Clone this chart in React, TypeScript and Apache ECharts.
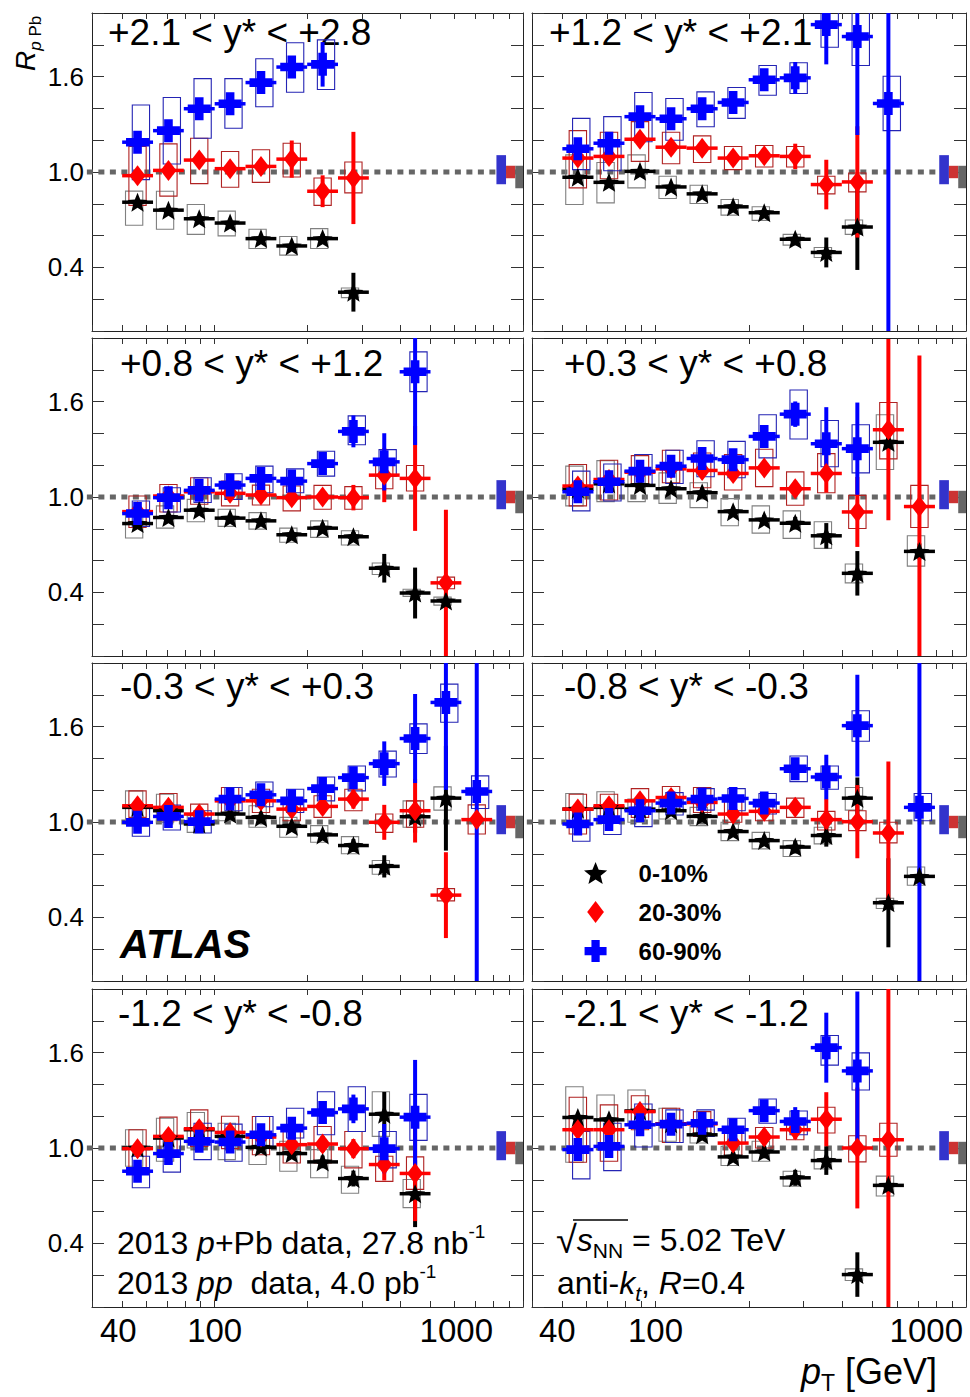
import React, { useEffect, useRef } from 'react';
import * as echarts from 'echarts';

const FONT = "'Liberation Sans', Arial, Helvetica, sans-serif";

// ---------------- data ----------------
// jet pT bins (GeV): centres and edges
const PT_CENTER = [56.2, 70.8, 89.1, 112.2, 141.3, 177.8, 223.9, 281.8, 354.8, 446.7, 562.3, 707.9];
const PT_LO = [50.1, 63.1, 79.4, 100, 125.9, 158.5, 199.5, 251.2, 316.2, 398.1, 501.2, 631.0];
const PT_HI = [63.1, 79.4, 100, 125.9, 158.5, 199.5, 251.2, 316.2, 398.1, 501.2, 631.0, 794.3];

const X_TICKS = [40, 50, 60, 70, 80, 90, 100, 200, 300, 400, 500, 600, 700, 800, 900, 1000];
const X_LABELS = [40, 100, 1000];
const Y_LABELS = [0.4, 1.0, 1.6];

const CENTRALITY = ['0-10%', '20-30%', '60-90%'];
const RAPIDITY = [
  '+2.1 < y* < +2.8', '+1.2 < y* < +2.1',
  '+0.8 < y* < +1.2', '+0.3 < y* < +0.8',
  '-0.3 < y* < +0.3', '-0.8 < y* < -0.3',
  '-1.2 < y* < -0.8', '-2.1 < y* < -1.2',
];

// normalisation uncertainties drawn at unity: [pT from, pT to, low, high]
const NORM_60_90 = [820, 881, 0.923, 1.106];
const NORM_20_30 = [881, 944, 0.961, 1.039];
const NORM_COMMON = [944, 1000, 0.898, 1.039];
// reference line at unity: [pT from, pT to, value]
const UNITY = [38.5, 1000, 1.0];

// each entry per pT bin: [R_pPb, stat. error, sys. box low, sys. box high] (null = no point)
const R1_010 = [[0.81, 0.02, 0.665, 0.88], [0.76, 0.02, 0.64, 0.879], [0.706, 0.02, 0.608, 0.796], [0.679, 0.02, 0.598, 0.754], [0.581, 0.02, 0.519, 0.64], [0.535, 0.02, 0.477, 0.594], [0.581, 0.03, 0.519, 0.644], [0.244, 0.122, 0.21, 0.27], null, null, null, null];
const R1_2030 = [[0.977, 0.02, 0.79, 1.16], [1.01, 0.02, 0.848, 1.177], [1.075, 0.03, 0.927, 1.2125], [1.021, 0.03, 0.904, 1.129], [1.035, 0.03, 0.935, 1.14], [1.081, 0.117, 0.969, 1.181], [0.879, 0.1, 0.79, 0.9625], [0.9625, 0.29, 0.869, 1.0625], null, null, null, null];
const R1_6090 = [[1.1875, 0.02, 0.952, 1.421], [1.26, 0.02, 1.05, 1.469], [1.398, 0.03, 1.2125, 1.5875], [1.429, 0.03, 1.275, 1.5875], [1.5625, 0.03, 1.41, 1.7125], [1.66, 0.05, 1.502, 1.8125], [1.677, 0.14, 1.519, 1.831], null, null, null, null, null];

const R2_010 = [[0.967, 0.02, 0.796, 1.108], [0.935, 0.02, 0.806, 1.06], [1.004, 0.02, 0.9, 1.108], [0.906, 0.02, 0.833, 0.973], [0.8625, 0.02, 0.802, 0.917], [0.781, 0.02, 0.729, 0.827], [0.744, 0.02, 0.696, 0.781], [0.577, 0.03, 0.54, 0.608], [0.494, 0.094, 0.4625, 0.525], [0.654, 0.27, 0.608, 0.698], null, null];
const R2_2030 = [[1.0875, 0.02, 0.9, 1.26], [1.098, 0.02, 0.958, 1.25], [1.206, 0.03, 1.067, 1.317], [1.156, 0.03, 1.052, 1.25], [1.15, 0.03, 1.06, 1.227], [1.0875, 0.03, 1.015, 1.16], [1.102, 0.04, 1.031, 1.167], [1.098, 0.08, 1.031, 1.16], [0.921, 0.156, 0.8625, 0.973], [0.9375, 0.35, 0.875, 0.994], null, null];
const R2_6090 = [[1.146, 0.02, 1.015, 1.3375], [1.181, 0.02, 1.008, 1.348], [1.348, 0.03, 1.19, 1.5], [1.335, 0.03, 1.2, 1.4625], [1.398, 0.03, 1.285, 1.504], [1.4375, 0.04, 1.3375, 1.531], [1.58, 0.05, 1.483, 1.67], [1.592, 0.1, 1.494, 1.6875], [1.927, 0.25, 1.785, 2.06], [1.852, 0.62, 1.67, 2.03], [1.431, 1.6, 1.26, 1.602], null];

const R3_010 = [[0.833, 0.02, 0.742, 0.89], [0.871, 0.02, 0.804, 0.944], [0.917, 0.02, 0.844, 0.985], [0.867, 0.02, 0.815, 0.923], [0.85, 0.02, 0.798, 0.902], [0.7625, 0.02, 0.715, 0.804], [0.804, 0.03, 0.746, 0.85], [0.75, 0.03, 0.698, 0.7875], [0.552, 0.09, 0.5125, 0.585], [0.396, 0.16, 0.375, 0.42], [0.346, 0.04, 0.32, 0.37], null];
const R3_2030 = [[0.908, 0.02, 0.808, 1.006], [1.006, 0.02, 0.906, 1.079], [1.033, 0.02, 0.954, 1.121], [1.023, 0.03, 0.944, 1.1], [1.0125, 0.03, 0.95, 1.075], [0.996, 0.03, 0.9125, 1.069], [1.0, 0.04, 0.923, 1.073], [0.996, 0.08, 0.923, 1.065], [1.1375, 0.17, 1.052, 1.204], [1.117, 0.33, 1.0375, 1.198], [0.46, 0.46, 0.423, 0.496], null];
const R3_6090 = [[0.896, 0.02, 0.815, 0.975], [0.996, 0.02, 0.906, 1.058], [1.042, 0.02, 0.965, 1.121], [1.075, 0.03, 0.985, 1.146], [1.117, 0.03, 1.027, 1.194], [1.1, 0.04, 1.027, 1.177], [1.21, 0.04, 1.131, 1.2875], [1.4125, 0.1, 1.329, 1.51], [1.221, 0.18, 1.131, 1.298], [1.7875, 0.46, 1.6625, 1.9125], null, null];

const R4_010 = [[1.05, 0.02, 0.944, 1.194], [1.083, 0.02, 0.971, 1.229], [1.073, 0.02, 0.971, 1.14], [1.052, 0.02, 0.96, 1.152], [1.027, 0.03, 0.933, 1.09], [0.908, 0.03, 0.819, 0.99], [0.856, 0.03, 0.773, 0.944], [0.835, 0.04, 0.74, 0.9125], [0.756, 0.08, 0.677, 0.844], [0.52, 0.14, 0.46, 0.579], [1.344, 0.05, 1.173, 1.517], [0.658, 0.05, 0.565, 0.756]];
const R4_2030 = [[1.069, 0.02, 0.944, 1.204], [1.11, 0.02, 0.981, 1.231], [1.156, 0.02, 1.073, 1.26], [1.177, 0.03, 1.09, 1.294], [1.167, 0.03, 1.058, 1.277], [1.148, 0.04, 1.044, 1.267], [1.183, 0.04, 1.065, 1.3], [1.052, 0.05, 0.948, 1.158], [1.148, 0.12, 1.027, 1.273], [0.906, 0.22, 0.802, 1.01], [1.423, 0.57, 1.24, 1.594], [0.94, 0.95, 0.808, 1.073]];
const R4_6090 = [[1.033, 0.02, 0.9125, 1.1625], [1.096, 0.02, 0.975, 1.208], [1.1625, 0.02, 1.079, 1.267], [1.194, 0.03, 1.085, 1.294], [1.242, 0.03, 1.127, 1.354], [1.235, 0.04, 1.121, 1.35], [1.381, 0.05, 1.246, 1.517], [1.521, 0.08, 1.365, 1.673], [1.335, 0.23, 1.19, 1.481], [1.304, 0.29, 1.152, 1.454], null, null];

const R5_010 = [[1.092, 0.02, 0.9875, 1.196], [1.071, 0.02, 0.998, 1.175], [0.9875, 0.02, 0.935, 1.04], [1.05, 0.02, 1.008, 1.133], [1.029, 0.02, 0.967, 1.102], [0.973, 0.03, 0.904, 1.029], [0.919, 0.03, 0.873, 0.977], [0.852, 0.04, 0.8, 0.908], [0.721, 0.07, 0.671, 0.758], [1.033, 0.1, 0.967, 1.133], [1.15, 0.33, 1.075, 1.221], null];
const R5_2030 = [[1.102, 0.02, 1.029, 1.196], [1.092, 0.02, 1.008, 1.179], [1.05, 0.02, 0.998, 1.1125], [1.133, 0.03, 1.06, 1.217], [1.133, 0.03, 1.06, 1.206], [1.081, 0.04, 1.008, 1.154], [1.098, 0.05, 1.029, 1.165], [1.144, 0.06, 1.071, 1.206], [0.998, 0.11, 0.935, 1.05], [1.071, 0.2, 0.967, 1.133], [0.54, 0.27, 0.504, 0.581], [1.015, 0.05, 0.925, 1.108]];
const R5_6090 = [[0.998, 0.02, 0.91, 1.0875], [1.035, 0.02, 0.95, 1.106], [1.002, 0.02, 0.931, 1.071], [1.144, 0.03, 1.071, 1.217], [1.171, 0.03, 1.096, 1.252], [1.133, 0.04, 1.06, 1.206], [1.21, 0.04, 1.133, 1.283], [1.279, 0.05, 1.196, 1.352], [1.367, 0.14, 1.283, 1.446], [1.525, 0.28, 1.431, 1.617], [1.752, 0.55, 1.627, 1.867], [1.192, 1.6, 1.085, 1.29]];

const R6_010 = [[1.081, 0.02, 0.977, 1.179], [1.092, 0.02, 0.998, 1.19], [1.081, 0.02, 0.998, 1.144], [1.071, 0.02, 1.019, 1.144], [1.035, 0.02, 0.977, 1.092], [0.94, 0.03, 0.883, 0.998], [0.883, 0.03, 0.831, 0.935], [0.842, 0.04, 0.783, 0.883], [0.915, 0.07, 0.8625, 0.967], [1.15, 0.13, 1.075, 1.217], [0.492, 0.28, 0.456, 0.52], [0.658, 0.05, 0.602, 0.717]];
const R6_2030 = [[1.081, 0.02, 0.925, 1.175], [1.102, 0.02, 0.998, 1.175], [1.133, 0.02, 1.029, 1.21], [1.154, 0.03, 1.071, 1.223], [1.123, 0.03, 1.06, 1.217], [1.05, 0.04, 0.998, 1.133], [1.067, 0.04, 1.008, 1.133], [1.092, 0.05, 1.029, 1.15], [1.015, 0.13, 0.95, 1.067], [1.002, 0.23, 0.946, 1.071], [0.931, 0.45, 0.869, 0.998], null];
const R6_6090 = [[0.9875, 0.02, 0.879, 1.081], [1.015, 0.02, 0.921, 1.092], [1.071, 0.02, 0.971, 1.133], [1.119, 0.03, 1.044, 1.185], [1.144, 0.03, 1.075, 1.21], [1.148, 0.04, 1.071, 1.21], [1.119, 0.05, 1.05, 1.179], [1.335, 0.06, 1.254, 1.415], [1.283, 0.14, 1.206, 1.352], [1.606, 0.32, 1.508, 1.7], null, [1.092, 1.6, 1.008, 1.179]];

const R7_010 = [[1.0, 0.02, 0.885, 1.115], [1.0625, 0.02, 0.917, 1.1875], [1.115, 0.02, 1.0, 1.223], [1.073, 0.02, 0.927, 1.156], [1.004, 0.03, 0.896, 1.083], [0.965, 0.03, 0.854, 1.042], [0.9125, 0.04, 0.8125, 0.99], [0.808, 0.05, 0.715, 0.885], [1.2125, 0.14, 1.073, 1.354], [0.7125, 0.21, 0.625, 0.802], null, null];
const R7_2030 = [[0.996, 0.02, 0.875, 1.115], [1.073, 0.02, 0.958, 1.194], [1.121, 0.02, 1.01, 1.24], [1.098, 0.03, 0.996, 1.2], [1.069, 0.03, 0.958, 1.198], [1.021, 0.04, 0.906, 1.135], [1.025, 0.05, 0.906, 1.135], [0.996, 0.06, 0.875, 1.104], [0.896, 0.1, 0.79, 0.948], [0.84, 0.3, 0.74, 0.944], null, null];
const R7_6090 = [[0.854, 0.02, 0.75, 0.948], [0.965, 0.02, 0.848, 1.052], [1.042, 0.02, 0.927, 1.156], [1.0375, 0.03, 0.917, 1.15], [1.083, 0.03, 1.01, 1.198], [1.125, 0.04, 1.0625, 1.25], [1.223, 0.05, 1.083, 1.354], [1.246, 0.09, 1.104, 1.385], [0.996, 0.155, 0.875, 1.104], [1.194, 0.36, 1.048, 1.3375], null, null];

const R8_010 = [[1.192, 0.02, 0.91, 1.385], [1.177, 0.02, 1.0, 1.333], [1.233, 0.02, 1.156, 1.365], [1.152, 0.02, 1.042, 1.25], [1.083, 0.03, 1.031, 1.135], [0.944, 0.03, 0.89, 1.01], [0.975, 0.04, 0.917, 1.042], [0.8125, 0.05, 0.76, 0.854], [0.921, 0.09, 0.869, 0.985], [0.204, 0.14, 0.167, 0.24], [0.765, 0.05, 0.698, 0.823], null];
const R8_2030 = [[1.115, 0.02, 0.91, 1.319], [1.115, 0.02, 0.917, 1.271], [1.229, 0.02, 1.115, 1.329], [1.152, 0.03, 1.035, 1.25], [1.152, 0.03, 1.073, 1.229], [1.031, 0.04, 0.948, 1.135], [1.069, 0.05, 1.0, 1.129], [1.115, 0.06, 1.052, 1.177], [1.181, 0.17, 1.094, 1.256], [1.0, 0.38, 0.9125, 1.077], [1.052, 1.6, 0.948, 1.156], null];
const R8_6090 = [[0.99, 0.02, 0.806, 1.104], [1.01, 0.02, 0.858, 1.156], [1.146, 0.02, 1.006, 1.277], [1.15, 0.03, 1.035, 1.24], [1.156, 0.03, 1.073, 1.24], [1.115, 0.04, 1.031, 1.1875], [1.235, 0.05, 1.156, 1.308], [1.167, 0.09, 1.083, 1.233], [1.631, 0.22, 1.521, 1.708], [1.485, 0.5, 1.365, 1.598], null, null];

const PANEL_SETS = [
  [R1_010, R1_2030, R1_6090], [R2_010, R2_2030, R2_6090],
  [R3_010, R3_2030, R3_6090], [R4_010, R4_2030, R4_6090],
  [R5_010, R5_2030, R5_6090], [R6_010, R6_2030, R6_6090],
  [R7_010, R7_2030, R7_6090], [R8_010, R8_2030, R8_6090],
];

// ---------------- layout / style ----------------
const COL_LEFT = [92, 532];
const COL_WIDTH = [431, 434];
const ROW_TOP = [13, 338, 663, 989];
const ROW_HEIGHT = 318;
const LABEL_POS = [[108, 32], [549, 32], [120, 363], [564, 363], [120, 686], [564, 686], [118, 1013], [564, 1013]];
const EDGE_LABEL_PAD = [[8, 30], [7, 3]]; // [left pad of min label, right pad of max label] per column

function starPath(): string {
  const pts: string[] = [];
  for (let k = 0; k < 10; k++) {
    const r = k % 2 === 0 ? 10 : 4.4;
    const a = -Math.PI / 2 + (k * Math.PI) / 5;
    pts.push((r * Math.cos(a)).toFixed(3) + ',' + (r * Math.sin(a)).toFixed(3));
  }
  return 'M' + pts.join('L') + 'Z';
}
const STAR = starPath();
const DIAMOND = 'M0,-10L7.6,0L0,10L-7.6,0Z';
const CROSS = 'M-4.5,-12H4.5V-4.5H12V4.5H4.5V12H-4.5V4.5H-12V-4.5H-4.5Z';

const STYLES = [
  { color: '#000000', box: '#808080', path: STAR, size: [20, 19], boxOff: -0.011 },
  { color: '#ff0000', box: '#b02222', path: DIAMOND, size: [16, 21], boxOff: 0 },
  { color: '#0000ff', box: '#2424b4', path: CROSS, size: [23, 23], boxOff: 0.011 },
];
const NORM_COLORS = ['#3333cc', '#cc3333', '#666666'];

function buildOption(): any {
  const grid: any[] = [];
  const xAxis: any[] = [];
  const yAxis: any[] = [];
  const series: any[] = [];

  for (let g = 0; g < 8; g++) {
    const row = Math.floor(g / 2);
    const col = g % 2;
    grid.push({ left: COL_LEFT[col], top: ROW_TOP[row], width: COL_WIDTH[col], height: ROW_HEIGHT });
    const axLine = { show: true, onZero: false, lineStyle: { color: '#222', width: 1 } };
    const xBase = {
      type: 'log', logBase: 10, gridIndex: g, min: 40, max: 1000,
      axisLine: axLine, splitLine: { show: false }, minorTick: { show: false },
      axisTick: { show: true, inside: true, length: 6, customValues: X_TICKS, lineStyle: { color: '#333', width: 1 } },
    };
    const lab = { fontSize: 33, fontFamily: FONT, color: '#000' };
    xAxis.push({
      ...xBase, position: 'bottom',
      axisLabel: {
        show: row === 3, customValues: X_LABELS, ...lab, margin: 7,
        alignMinLabel: 'left', alignMaxLabel: 'right',
        formatter: (v: number) => {
          const r = Math.round(v);
          if (r === X_LABELS[0]) return '{mn|' + r + '}';
          if (r === X_LABELS[X_LABELS.length - 1]) return '{mx|' + r + '}';
          return '{md|' + r + '}';
        },
        rich: {
          mn: { ...lab, padding: [0, 0, 0, EDGE_LABEL_PAD[col][0]] },
          mx: { ...lab, padding: [0, EDGE_LABEL_PAD[col][1], 0, 0] },
          md: { ...lab },
        },
      },
    });
    xAxis.push({ ...xBase, position: 'top', axisLabel: { show: false } });
    const yBase = {
      type: 'value', gridIndex: g, min: 0, max: 2, interval: 0.2,
      axisLine: axLine, splitLine: { show: false },
      axisTick: { show: true, inside: true, length: 12, lineStyle: { color: '#333', width: 1 } },
    };
    yAxis.push({
      ...yBase, position: 'left',
      axisLabel: {
        show: col === 0, fontSize: 26, fontFamily: FONT, color: '#000', margin: 8,
        formatter: (v: number) => (Y_LABELS.some((l) => Math.abs(l - v) < 1e-6) ? v.toFixed(1) : ''),
      },
    });
    yAxis.push({ ...yBase, position: 'right', axisLabel: { show: false } });

    const xi = 2 * g;
    const yi = 2 * g;

    // unity reference line
    series.push({
      type: 'custom', xAxisIndex: xi, yAxisIndex: yi, clip: false, silent: true, z: 1,
      encode: { x: [0, 1], y: 2 },
      data: [UNITY],
      renderItem: (_p: any, api: any) => {
        const a = api.coord([api.value(0), api.value(2)]);
        const b = api.coord([api.value(1), api.value(2)]);
        return {
          type: 'line', shape: { x1: a[0], y1: a[1], x2: b[0], y2: b[1] },
          style: { stroke: '#666666', lineWidth: 5, lineDash: [6, 5.5] },
        };
      },
    });
    // normalisation boxes
    series.push({
      type: 'custom', xAxisIndex: xi, yAxisIndex: yi, clip: true, silent: true, z: 2,
      encode: { x: [0, 1], y: [2, 3] },
      data: [NORM_60_90.concat([0]), NORM_20_30.concat([1]), NORM_COMMON.concat([2])],
      renderItem: (_p: any, api: any) => {
        const a = api.coord([api.value(0), api.value(3)]);
        const b = api.coord([api.value(1), api.value(2)]);
        return {
          type: 'rect', shape: { x: a[0], y: a[1], width: b[0] - a[0], height: b[1] - a[1] },
          style: { fill: NORM_COLORS[api.value(4)] },
        };
      },
    });

    const sets = PANEL_SETS[g];
    const items = sets.map((set) => {
      const out: number[][] = [];
      set.forEach((p: any, i: number) => {
        if (p) out.push([PT_CENTER[i], p[0], p[1], p[2], p[3], PT_LO[i], PT_HI[i]]);
      });
      return out;
    });

    // systematic boxes
    items.forEach((data, c) => {
      const st = STYLES[c];
      series.push({
        type: 'custom', xAxisIndex: xi, yAxisIndex: yi, clip: true, silent: true, z: 3,
        encode: { x: [0, 5, 6], y: [1, 3, 4] },
        data,
        renderItem: (_p: any, api: any) => {
          const pt = api.value(0) * Math.pow(10, st.boxOff);
          const hw = Math.pow(10, 0.028);
          const a = api.coord([pt / hw, api.value(4)]);
          const b = api.coord([pt * hw, api.value(3)]);
          return {
            type: 'rect', shape: { x: a[0], y: a[1], width: b[0] - a[0], height: b[1] - a[1] },
            style: { fill: 'none', stroke: st.box, lineWidth: 1.1 },
          };
        },
      });
    });
    // error bars
    items.forEach((data, c) => {
      const st = STYLES[c];
      series.push({
        type: 'custom', xAxisIndex: xi, yAxisIndex: yi, clip: true, silent: true, z: 4,
        encode: { x: [0, 5, 6], y: [1, 3, 4] },
        data,
        renderItem: (_p: any, api: any) => {
          const pt = api.value(0);
          const r = api.value(1);
          const s = api.value(2);
          const a = api.coord([api.value(5), r]);
          const b = api.coord([api.value(6), r]);
          const lo = api.coord([pt, r - s]);
          const hi = api.coord([pt, r + s]);
          return {
            type: 'group',
            children: [
              { type: 'line', shape: { x1: a[0], y1: a[1], x2: b[0], y2: b[1] }, style: { stroke: st.color, lineWidth: 3.5 } },
              { type: 'line', shape: { x1: lo[0], y1: lo[1], x2: hi[0], y2: hi[1] }, style: { stroke: st.color, lineWidth: 4 } },
            ],
          };
        },
      });
    });
    // markers
    items.forEach((data, c) => {
      const st = STYLES[c];
      series.push({
        type: 'scatter', name: CENTRALITY[c], xAxisIndex: xi, yAxisIndex: yi, z: 5,
        symbol: 'path://' + st.path, symbolSize: st.size,
        itemStyle: { color: st.color, opacity: 1 },
        data: data.map((d) => [d[0], d[1]]),
        silent: true,
      });
    });
  }

  const txt = (x: number, y: number, style: any, extra: any = {}) => ({
    type: 'text', x, y, z: 0, silent: true,
    style: { fill: '#000', fontFamily: FONT, align: 'left', textAlign: 'left', verticalAlign: 'middle', textVerticalAlign: 'middle', ...style },
    ...extra,
  });

  const base = { fontFamily: FONT, fill: '#000', color: '#000' };
  const graphics: any[] = [];
  RAPIDITY.forEach((t, g) => {
    graphics.push(txt(LABEL_POS[g][0], LABEL_POS[g][1], { text: t, fontSize: 37 }));
  });
  // y-axis title R_pPb (rotated)
  graphics.push(txt(25, 71, {
    text: '{R|R}{i|p}{n| Pb}',
    rich: {
      R: { ...base, fontSize: 28, fontStyle: 'italic', lineHeight: 38 },
      i: { ...base, fontSize: 17, fontStyle: 'italic', lineHeight: 17, verticalAlign: 'bottom' },
      n: { ...base, fontSize: 17, lineHeight: 17, verticalAlign: 'bottom' },
    },
  }, { rotation: Math.PI / 2 }));
  // ATLAS
  graphics.push(txt(120, 944, { text: 'ATLAS', fontSize: 40, fontWeight: 'bold', fontStyle: 'italic' }));
  // data sets
  const richMain = {
    n: { ...base, fontSize: 32, lineHeight: 42 },
    i: { ...base, fontSize: 32, fontStyle: 'italic', lineHeight: 42 },
    s: { ...base, fontSize: 19, lineHeight: 19, verticalAlign: 'top' },
    b: { ...base, fontSize: 21, lineHeight: 21, verticalAlign: 'bottom' },
    bi: { ...base, fontSize: 21, fontStyle: 'italic', lineHeight: 21, verticalAlign: 'bottom' },
    r: { ...base, fontSize: 38, lineHeight: 42 },
  };
  graphics.push(txt(117, 1243, { text: '{n|2013 }{i|p}{n|+Pb data, 27.8 nb}{s|-1}', rich: richMain }));
  graphics.push(txt(117, 1283, { text: '{n|2013 }{i|pp}{n|  data, 4.0 pb}{s|-1}', rich: richMain }));
  graphics.push(txt(556, 1240, { text: '{r|√}{i|s}{b|NN}{n| = 5.02 TeV}', rich: richMain }));
  graphics.push({ type: 'line', silent: true, shape: { x1: 573, y1: 1220, x2: 628, y2: 1220 }, style: { stroke: '#000', lineWidth: 1.5 } });
  graphics.push(txt(557, 1283, { text: '{n|anti-}{i|k}{bi|t}{n|, }{i|R}{n|=0.4}', rich: richMain }));
  // x-axis title
  graphics.push(txt(801, 1371, {
    text: '{i|p}{b|T}{n| [GeV]}',
    rich: {
      i: { ...base, fontSize: 36, fontStyle: 'italic', lineHeight: 46 },
      b: { ...base, fontSize: 23, lineHeight: 23, verticalAlign: 'bottom' },
      n: { ...base, fontSize: 36, lineHeight: 46 },
    },
  }));

  return {
    animation: false,
    backgroundColor: '#ffffff',
    grid,
    xAxis,
    yAxis,
    series,
    graphic: { elements: graphics },
    legend: {
      show: true, orient: 'vertical', left: 579, top: 856,
      itemWidth: 76, itemHeight: 22, itemGap: 15, selectedMode: false,
      data: CENTRALITY.map((n, k) => ({ name: n, icon: 'path://' + STYLES[k].path })),
      textStyle: { fontSize: 24, fontWeight: 'bold', fontFamily: FONT, color: '#000' },
    },
  };
}

export default function App() {
  const ref = useRef<HTMLDivElement>(null);
  useEffect(() => {
    if (!ref.current) return;
    const chart = echarts.init(ref.current, null, { renderer: 'svg' });
    chart.setOption(buildOption());
    return () => chart.dispose();
  }, []);
  return <div ref={ref} style={{ position: 'absolute', left: 0, top: 0, width: 970, height: 1397 }} />;
}
